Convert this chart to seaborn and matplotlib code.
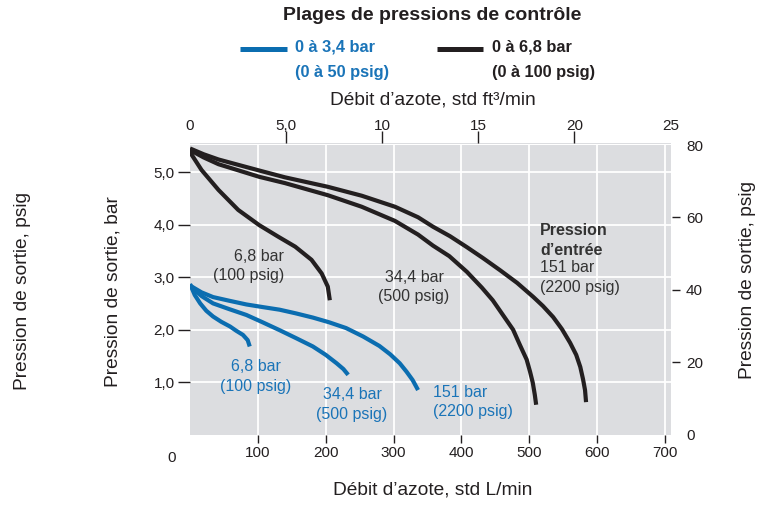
import matplotlib
matplotlib.use("Agg")
import matplotlib.pyplot as plt
from matplotlib.lines import Line2D
import seaborn as sns
import pandas as pd

# ---------------- data ----------------
# black curves : control range 0 a 6,8 bar
flow_k_68 = [0, 2.5, 17, 42, 71, 102, 130, 155, 179, 194, 203, 206]
pres_k_68 = [5.42, 5.33, 5.04, 4.66, 4.28, 3.99, 3.77, 3.58, 3.33, 3.07, 2.82, 2.56]
flow_k_344 = [0, 20, 42, 102, 140, 203, 253, 302, 336, 358, 382, 408, 430, 446, 461,
              476, 486, 496, 501, 505, 508, 510]
pres_k_344 = [5.42, 5.28, 5.15, 4.91, 4.79, 4.56, 4.34, 4.07, 3.81, 3.60, 3.40, 3.10, 2.80,
              2.56, 2.28, 2.00, 1.71, 1.43, 1.20, 0.99, 0.76, 0.57]
flow_k_151 = [0, 20, 42, 102, 140, 203, 253, 302, 336, 358, 383, 408, 432, 457, 482, 506,
              520, 535, 548, 560, 569, 575, 579, 582, 583.5]
pres_k_151 = [5.45, 5.34, 5.24, 5.03, 4.90, 4.72, 4.55, 4.34, 4.14, 3.96, 3.78, 3.57, 3.36,
              3.13, 2.89, 2.62, 2.45, 2.24, 2.01, 1.75, 1.52, 1.29, 1.06, 0.85, 0.62]
# blue curves : control range 0 a 3,4 bar
flow_b_68 = [0, 7, 15, 24, 34, 46, 59, 68, 78, 85, 88]
pres_b_68 = [2.87, 2.66, 2.50, 2.36, 2.25, 2.15, 2.06, 1.98, 1.90, 1.80, 1.68]
flow_b_344 = [0, 17, 34, 58, 83, 107, 132, 156, 181, 200, 216, 226, 233]
pres_b_344 = [2.84, 2.64, 2.50, 2.39, 2.28, 2.14, 1.99, 1.84, 1.68, 1.52, 1.36, 1.25, 1.14]
flow_b_151 = [0, 17, 34, 58, 83, 107, 132, 156, 181, 205, 230, 255, 279, 295, 309, 319,
              328, 336]
pres_b_151 = [2.84, 2.71, 2.62, 2.55, 2.48, 2.43, 2.38, 2.31, 2.23, 2.14, 2.03, 1.87, 1.69,
              1.53, 1.36, 1.20, 1.04, 0.85]

ranges = ["0 à 3,4 bar", "0 à 6,8 bar"]
bottom_ticks = [100, 200, 300, 400, 500, 600, 700]
left_ticks = [1, 2, 3, 4, 5]
left_labels = ["1,0", "2,0", "3,0", "4,0", "5,0"]
top_ticks = [0, 5, 10, 15, 20, 25]
top_labels = ["0", "5,0", "10", "15", "20", "25"]
right_ticks = [0, 20, 40, 60, 80]

curves = [
    (ranges[1], "k68", flow_k_68, pres_k_68),
    (ranges[1], "k344", flow_k_344, pres_k_344),
    (ranges[1], "k151", flow_k_151, pres_k_151),
    (ranges[0], "b68", flow_b_68, pres_b_68),
    (ranges[0], "b344", flow_b_344, pres_b_344),
    (ranges[0], "b151", flow_b_151, pres_b_151),
]
rows = []
for rng, cid, xs, ys in curves:
    for i, (x, y) in enumerate(zip(xs, ys)):
        rows.append({"range": rng, "curve": cid, "order": i, "flow": x, "pressure": y})
df = pd.DataFrame(rows)

# ---------------- style ----------------
BLUE = "#0b6db0"
BLUE_TXT = "#1a74b8"
INK = "#231f20"
TXT = "#333333"
GRAY = "#dcdde0"

sns.set_style("white", {"axes.facecolor": GRAY})
plt.rcParams["font.family"] = ["Liberation Sans", "DejaVu Sans"]
plt.rcParams["text.color"] = INK

W, H = 761, 505
fig = plt.figure(figsize=(W / 100, H / 100), dpi=100)

def fx(px):
    return px / W

def fy(py):
    return 1 - py / H

L_PX, R_PX, T_PX, B_PX = 190, 670.5, 145, 434.7
ax = fig.add_axes([fx(L_PX), fy(B_PX), (R_PX - L_PX) / W, (B_PX - T_PX) / H])

PSI_PER_BAR = 14.5038
LPM_PER_CFM = 28.3168

sns.lineplot(data=df, x="flow", y="pressure", hue="range", units="curve",
             estimator=None, sort=False, palette={ranges[0]: BLUE, ranges[1]: INK},
             lw=3.0, legend=False, ax=ax, solid_capstyle="butt", solid_joinstyle="round")

ax.set_xlim(0, 25 * LPM_PER_CFM)
ax.set_ylim(0, 80 / PSI_PER_BAR)
for s in ax.spines.values():
    s.set_visible(False)
ax.grid(True, color="white", lw=1.3)
ax.set_axisbelow(True)
ax.set_xlabel("")
ax.set_ylabel("")

ax.set_xticks(bottom_ticks, labels=[str(t) for t in bottom_ticks])
ax.set_yticks(left_ticks, labels=left_labels)
ax.tick_params(axis="x", bottom=True, length=5.8, width=1, color=INK, pad=2.5,
               labelsize=11, labelcolor=INK, direction="out")
ax.tick_params(axis="y", left=True, length=9, width=1, color=INK, pad=2,
               labelsize=11, labelcolor=INK, direction="out")

# top axis : std ft3/min
top = ax.secondary_xaxis(1 + 1.5 / (B_PX - T_PX),
                         functions=(lambda v: v / LPM_PER_CFM, lambda v: v * LPM_PER_CFM))
top.xaxis.remove_overlapping_locs = False
top.set_ticks(top_ticks, labels=top_labels)
top.set_ticks(top_ticks[1:-1], minor=True)
top.tick_params(which="major", length=0, pad=7.8, labelsize=11, labelcolor=INK)
top.tick_params(which="minor", top=True, length=9, width=1, color=INK)
for s in top.spines.values():
    s.set_visible(False)

# right axis : psig
right = ax.secondary_yaxis(1 + 1.0 / (R_PX - L_PX),
                           functions=(lambda v: v * PSI_PER_BAR, lambda v: v / PSI_PER_BAR))
right.yaxis.remove_overlapping_locs = False
right.set_ticks(right_ticks, labels=[str(t) for t in right_ticks])
right.set_ticks(right_ticks[1:-1], minor=True)
right.tick_params(which="major", length=0, pad=10.4, labelsize=11, labelcolor=INK)
right.tick_params(which="minor", right=True, length=5.8, width=1, color=INK)
for s in right.spines.values():
    s.set_visible(False)

# ---------------- titles / labels ----------------
fig.text(fx(432), fy(15), "Plages de pressions de contrôle", ha="center", va="center",
         fontsize=14, fontweight="bold", color=INK)
fig.add_artist(Line2D([fx(240), fx(287)], [fy(49), fy(49)], transform=fig.transFigure,
                      color=BLUE, lw=3.6, solid_capstyle="butt"))
fig.add_artist(Line2D([fx(437), fx(483)], [fy(49), fy(49)], transform=fig.transFigure,
                      color=INK, lw=3.6, solid_capstyle="butt"))
LEG = 11.8
fig.text(fx(295), fy(47), "0 à 3,4 bar", ha="left", va="center", fontsize=LEG,
         fontweight="bold", color=BLUE_TXT)
fig.text(fx(295), fy(72), "(0 à 50 psig)", ha="left", va="center", fontsize=LEG,
         fontweight="bold", color=BLUE_TXT)
fig.text(fx(492), fy(47), "0 à 6,8 bar", ha="left", va="center", fontsize=LEG,
         fontweight="bold", color=INK)
fig.text(fx(492), fy(72), "(0 à 100 psig)", ha="left", va="center", fontsize=LEG,
         fontweight="bold", color=INK)

LAB = 13.8
fig.text(fx(433), fy(100), "Débit d’azote, std ft³/min", ha="center", va="center",
         fontsize=LAB, color=INK)
fig.text(fx(433), fy(490), "Débit d’azote, std L/min", ha="center", va="center",
         fontsize=LAB, color=INK)
fig.text(fx(23), fy(291), "Pression de sortie, psig", ha="center", va="center",
         rotation=90, fontsize=LAB, color=INK)
fig.text(fx(113), fy(292), "Pression de sortie, bar", ha="center", va="center",
         rotation=90, fontsize=LAB, color=INK)
fig.text(fx(748), fy(280), "Pression de sortie, psig", ha="center", va="center",
         rotation=90, fontsize=LAB, color=INK)
fig.text(fx(172), fy(458), "0", ha="center", va="center", fontsize=11, color=INK)

# ---------------- curve annotations ----------------
LS = 1.36
ax.text(138.5, 3.21, "6,8 bar\n(100 psig)", ha="right", va="center", ma="right",
        fontsize=11.5, color=TXT, linespacing=LS)
ax.text(330, 2.81, "34,4 bar\n(500 psig)", ha="center", va="center", ma="center",
        fontsize=11.5, color=TXT, linespacing=LS)
ax.text(515.7, 3.70, "Pression\nd’entrée", ha="left", va="center", ma="left",
        fontsize=11.5, fontweight="bold", color=TXT, linespacing=LS)
ax.text(515.7, 2.99, "151 bar\n(2200 psig)", ha="left", va="center", ma="left",
        fontsize=11.5, color=TXT, linespacing=LS)
ax.text(97.2, 1.11, "6,8 bar\n(100 psig)", ha="center", va="center", ma="center",
        fontsize=11.5, color=BLUE_TXT, linespacing=LS)
ax.text(238.7, 0.575, "34,4 bar\n(500 psig)", ha="center", va="center", ma="center",
        fontsize=11.5, color=BLUE_TXT, linespacing=LS)
ax.text(358, 0.62, "151 bar\n(2200 psig)", ha="left", va="center", ma="left",
        fontsize=11.5, color=BLUE_TXT, linespacing=LS)

fig.savefig("out.png", dpi=100)
